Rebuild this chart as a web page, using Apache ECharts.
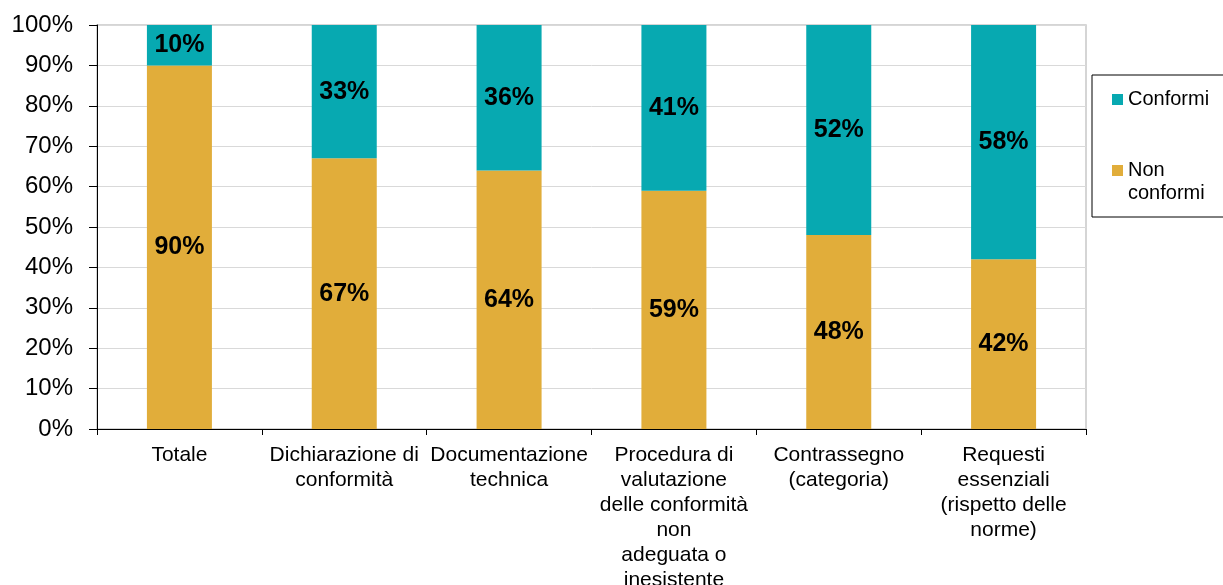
<!DOCTYPE html>
<html>
<head>
<meta charset="utf-8">
<script src="https://cdn.jsdelivr.net/npm/echarts@6/dist/echarts.min.js"></script>
<style>html,body{margin:0;padding:0;background:#fff}#c{width:1223px;height:585px}</style>
</head>
<body>
<div id="c"></div>
<script>
var categories = ['Totale', 'Dichiarazione di\nconformità', 'Documentazione\ntechnica', 'Procedura di\nvalutazione\ndelle conformità\nnon\nadeguata o\ninesistente', 'Contrassegno\n(categoria)', 'Requesti\nessenziali\n(rispetto delle\nnorme)'];
var nonConformi = [90, 67, 64, 59, 48, 42];
var conformi = [10, 33, 36, 41, 52, 58];
var yTicks = [0, 10, 20, 30, 40, 50, 60, 70, 80, 90, 100];

var FONT = '"Liberation Sans", Arial, sans-serif';
var chart = echarts.init(document.getElementById('c'), null, {renderer: 'canvas'});
var labelCfg = {show: true, position: 'inside', formatter: '{c}%', color: '#000', fontWeight: 'bold', fontSize: 25, fontFamily: FONT};
chart.setOption({
  animation: false,
  textStyle: {fontFamily: FONT},
  grid: {left: 97, right: 137, top: 25, bottom: 156, outerBoundsMode: 'none', containLabel: false, show: true, borderColor: '#c8c8c8', borderWidth: 1.5, backgroundColor: 'transparent'},
  graphic: [{type: 'rect', shape: {x: 1092, y: 75, width: 140, height: 142}, style: {fill: 'none', stroke: '#000', lineWidth: 1}, z: 10}],
  legend: [
    {data: ['Conformi'], orient: 'vertical', left: 1112, top: 88, padding: 0, icon: 'rect', itemWidth: 11, itemHeight: 11,
     textStyle: {fontSize: 20, lineHeight: 23, color: '#000', fontFamily: FONT}},
    {data: ['Non conformi'], orient: 'vertical', left: 1112, top: 136, padding: 0, icon: 'rect', itemWidth: 11, itemHeight: 11,
     formatter: function () { return '\nNon\nconformi'; },
     textStyle: {fontSize: 20, lineHeight: 23, color: '#000', fontFamily: FONT}}
  ],
  xAxis: {
    type: 'category', data: categories,
    axisLine: {lineStyle: {color: '#000', width: 1}},
    axisTick: {show: true, length: 6, lineStyle: {color: '#000'}},
    axisLabel: {interval: 0, color: '#000', fontSize: 21, lineHeight: 25, margin: 14, fontFamily: FONT}
  },
  yAxis: {
    type: 'value', min: 0, max: 100, interval: 10,
    axisLine: {show: true, lineStyle: {color: '#000', width: 1}},
    axisTick: {show: true, length: 8, lineStyle: {color: '#000'}},
    axisLabel: {formatter: '{value}%', color: '#000', fontSize: 24, margin: 24, fontFamily: FONT},
    splitLine: {lineStyle: {color: '#d9d9d9', width: 1}}
  },
  series: [
    {name: 'Non conformi', type: 'bar', stack: 'a', data: nonConformi, barWidth: 65, itemStyle: {color: '#E1AD3A'}, label: labelCfg},
    {name: 'Conformi', type: 'bar', stack: 'a', data: conformi, barWidth: 65, itemStyle: {color: '#07A9B1'}, label: labelCfg}
  ]
});
</script>
</body>
</html>
